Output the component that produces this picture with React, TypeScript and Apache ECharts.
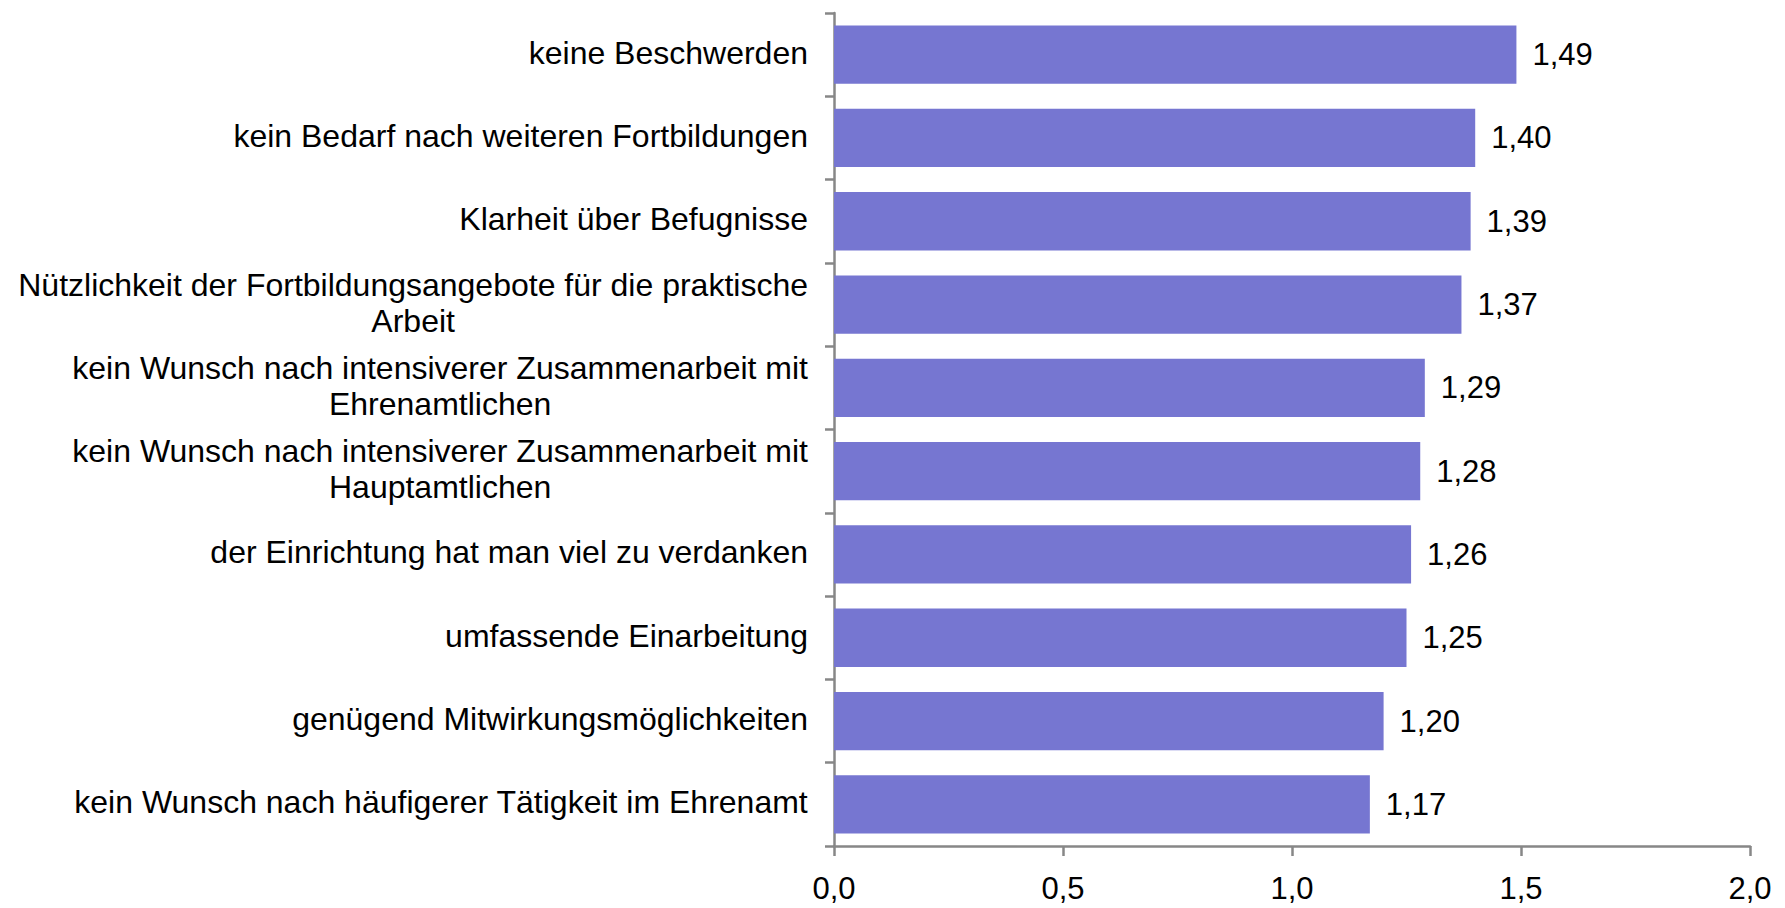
import React, { useEffect, useRef } from "react";
import * as echarts from "echarts";

const categories: string[] = [
  "keine Beschwerden",
  "kein Bedarf nach weiteren Fortbildungen",
  "Klarheit über Befugnisse",
  "Nützlichkeit der Fortbildungsangebote für die praktische\nArbeit",
  "kein Wunsch nach intensiverer Zusammenarbeit mit\nEhrenamtlichen",
  "kein Wunsch nach intensiverer Zusammenarbeit mit\nHauptamtlichen",
  "der Einrichtung hat man viel zu verdanken",
  "umfassende Einarbeitung",
  "genügend Mitwirkungsmöglichkeiten",
  "kein Wunsch nach häufigerer Tätigkeit im Ehrenamt",
];

const values: number[] = [1.49, 1.4, 1.39, 1.37, 1.29, 1.28, 1.26, 1.25, 1.2, 1.17];

const xMin = 0;
const xMax = 2;
const xInterval = 0.5;

const FONT = "'Liberation Sans', Arial, sans-serif";

export default function App() {
  const ref = useRef<HTMLDivElement>(null);

  useEffect(() => {
    if (!ref.current) return;
    const chart = echarts.init(ref.current, undefined, { renderer: "svg" });
    chart.setOption({
      animation: false,
      backgroundColor: "#ffffff",
      grid: { left: 834, right: 35, top: 13, bottom: 62, containLabel: false },
      xAxis: {
        type: "value",
        min: xMin,
        max: xMax,
        interval: xInterval,
        splitLine: { show: false },
        axisLine: { show: true, lineStyle: { color: "#878787", width: 2.5 } },
        axisTick: { show: true, length: 10, lineStyle: { color: "#878787", width: 2.5 } },
        axisLabel: {
          margin: 26,
          color: "#000000",
          fontFamily: FONT,
          fontSize: 31,
          lineHeight: 32,
          formatter: (v: number) => v.toFixed(1).replace(".", ","),
        },
      },
      yAxis: {
        type: "category",
        inverse: true,
        data: categories,
        axisLine: { show: true, lineStyle: { color: "#878787", width: 2.5 } },
        axisTick: { show: true, length: 9, lineStyle: { color: "#878787", width: 2.5 } },
        axisLabel: {
          margin: 26,
          color: "#000000",
          fontFamily: FONT,
          fontSize: 32,
          lineHeight: 36,
          align: "right",
          padding: [0, 0, 4, 0],
          formatter: (v: string) =>
            v
              .split("\n")
              .map((s) => "{c|" + s + "}")
              .join("\n"),
          rich: {
            c: {
              align: "center",
              color: "#000000",
              fontFamily: FONT,
              fontSize: 32,
              lineHeight: 36,
            },
          },
        },
      },
      series: [
        {
          type: "bar",
          data: values,
          barCategoryGap: "30%",
          itemStyle: { color: "#7676d1" },
          label: {
            show: true,
            position: "right",
            distance: 16,
            color: "#000000",
            fontFamily: FONT,
            fontSize: 31,
            formatter: (p: any) => (p.value as number).toFixed(2).replace(".", ","),
          },
        },
      ],
    });
    return () => chart.dispose();
  }, []);

  return (
    <div
      ref={ref}
      style={{ position: "fixed", left: 0, top: 0, width: 1785, height: 908, background: "#fff" }}
    />
  );
}
